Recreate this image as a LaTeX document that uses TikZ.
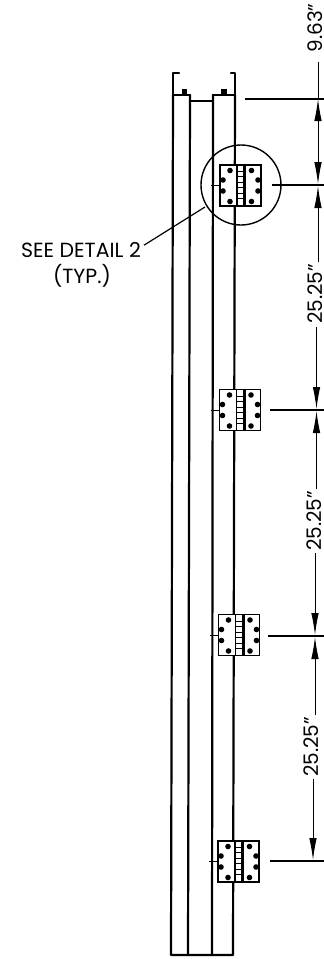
\documentclass[tikz,border=0pt]{standalone}
\usepackage{fontspec}
\setmainfont{Poppins}
\usetikzlibrary{arrows.meta}
\tikzset{
  rail/.style={line width=2.2pt,line cap=round,line join=round},
  hingebox/.style={draw,fill=white,line width=1.9pt,minimum width=41pt,minimum height=41pt,inner sep=0pt},
  thin dim/.style={line width=0.9pt},
  dimtip/.style={line width=0.9pt,-{Latex[length=22pt,width=7.5pt]}},
  dimtext/.style={rotate=90,font=\fontsize{20}{22}\selectfont,inner sep=0pt},
  note/.style={font=\fontsize{20.5}{22}\selectfont,inner sep=0pt},
  hinge/.pic={
    \draw[line width=1.1pt] (-3.5,-20)--(-3.5,20) (3.5,-20)--(3.5,20) (5,-20)--(5,20);
    \foreach \yy in {-14,-3,8}{\draw[line width=1pt] (-3.5,\yy)--(3.5,\yy) (-3.5,\yy+5)--(3.5,\yy+5);}
    \foreach \xx/\yy in {-10.5/-15,-17.5/-5.5,-17.5/5.5,-10.5/16,11/-15,17.5/-5.5,17.5/5.5,11/16}{\fill (\xx,\yy) circle (2.8);}
  }
}
\begin{document}
\begin{tikzpicture}[x=1pt,y=-1pt]
\useasboundingbox (0,0) rectangle (324,959);
% rails
\draw[rail] (179,73)--(173,73)--(173,95)--(190,95)--(190,101)--(213,101)--(213,95)--(235,95)--(235,73)--(231,73);
\draw[rail] (173,95)--(171,955)--(233,955)--(235,95);
\draw[rail] (190,95)--(188,955);
\draw[rail] (213,95)--(212,955);
\fill (182,89) rectangle (187,95);
\fill (221,89) rectangle (227,95);
% detail circle
\node[draw,circle,line width=1.4pt,minimum size=80pt,inner sep=0pt] (detail) at (241,185) {};
% hinges
\node[hingebox] (h1) at (240.5,185.5) {};
\node[hingebox] (h2) at (240,410) {};
\node[hingebox] (h3) at (239,635) {};
\node[hingebox] (h4) at (238.5,861.5) {};
\foreach \n in {h1,h2,h3,h4}{\pic at (\n) {hinge};\draw[line width=0.8pt] (\n.west)--++(-8,0);}
% extension lines
\coordinate (e0a) at (245,99); \coordinate (e0b) at (324,99);
\coordinate (e1a) at (272,185); \coordinate (e1b) at (324,185);
\coordinate (e2a) at (270,410); \coordinate (e2b) at (324,410);
\coordinate (e3a) at (268,636); \coordinate (e3b) at (324,636);
\coordinate (e4a) at (270,861); \coordinate (e4b) at (324,861);
\foreach \n in {0,1,2,3,4}{\draw[line width=1.2pt] (e\n a)--(e\n b);}
% dimension texts
\node[dimtext] (d0) at (315,28) {9.63"};
\node[dimtext] (d1) at (315,294) {25.25"};
\node[dimtext] (d2) at (314,521) {25.25"};
\node[dimtext] (d3) at (311,747) {25.25"};
% dimension arrows
\coordinate (t0) at (318,99); \coordinate (t1u) at (318,184); \coordinate (t1d) at (318,186);
\coordinate (t2u) at (316.5,409); \coordinate (t2d) at (316.5,411);
\coordinate (t3u) at (315,635); \coordinate (t3d) at (315,637);
\coordinate (t4u) at (313,860);
\coordinate (b0) at (318,62); \coordinate (mid) at (318,140);
\coordinate (b1) at (318,262); \coordinate (b2) at (316.5,327);
\coordinate (b3) at (316.5,489); \coordinate (b4) at (315,553);
\coordinate (b5) at (315,715); \coordinate (b6) at (313,779);
\draw[thin dim] (b0)--(t0);
\draw[dimtip] (mid)--(t0);
\draw[dimtip] (mid)--(t1u);
\draw[dimtip] (b1)--(t1d);
\draw[dimtip] (b2)--(t2u);
\draw[dimtip] (b3)--(t2d);
\draw[dimtip] (b4)--(t3u);
\draw[dimtip] (b5)--(t3d);
\draw[dimtip] (b6)--(t4u);
% note
\node[note] (n1) at (81,250) {SEE DETAIL 2};
\node[note] (n2) at (82,276) {(TYP.)};
\draw[line width=1.2pt] (n1.north east) ++(3,3) -- (205,207);
\end{tikzpicture}
\end{document}
